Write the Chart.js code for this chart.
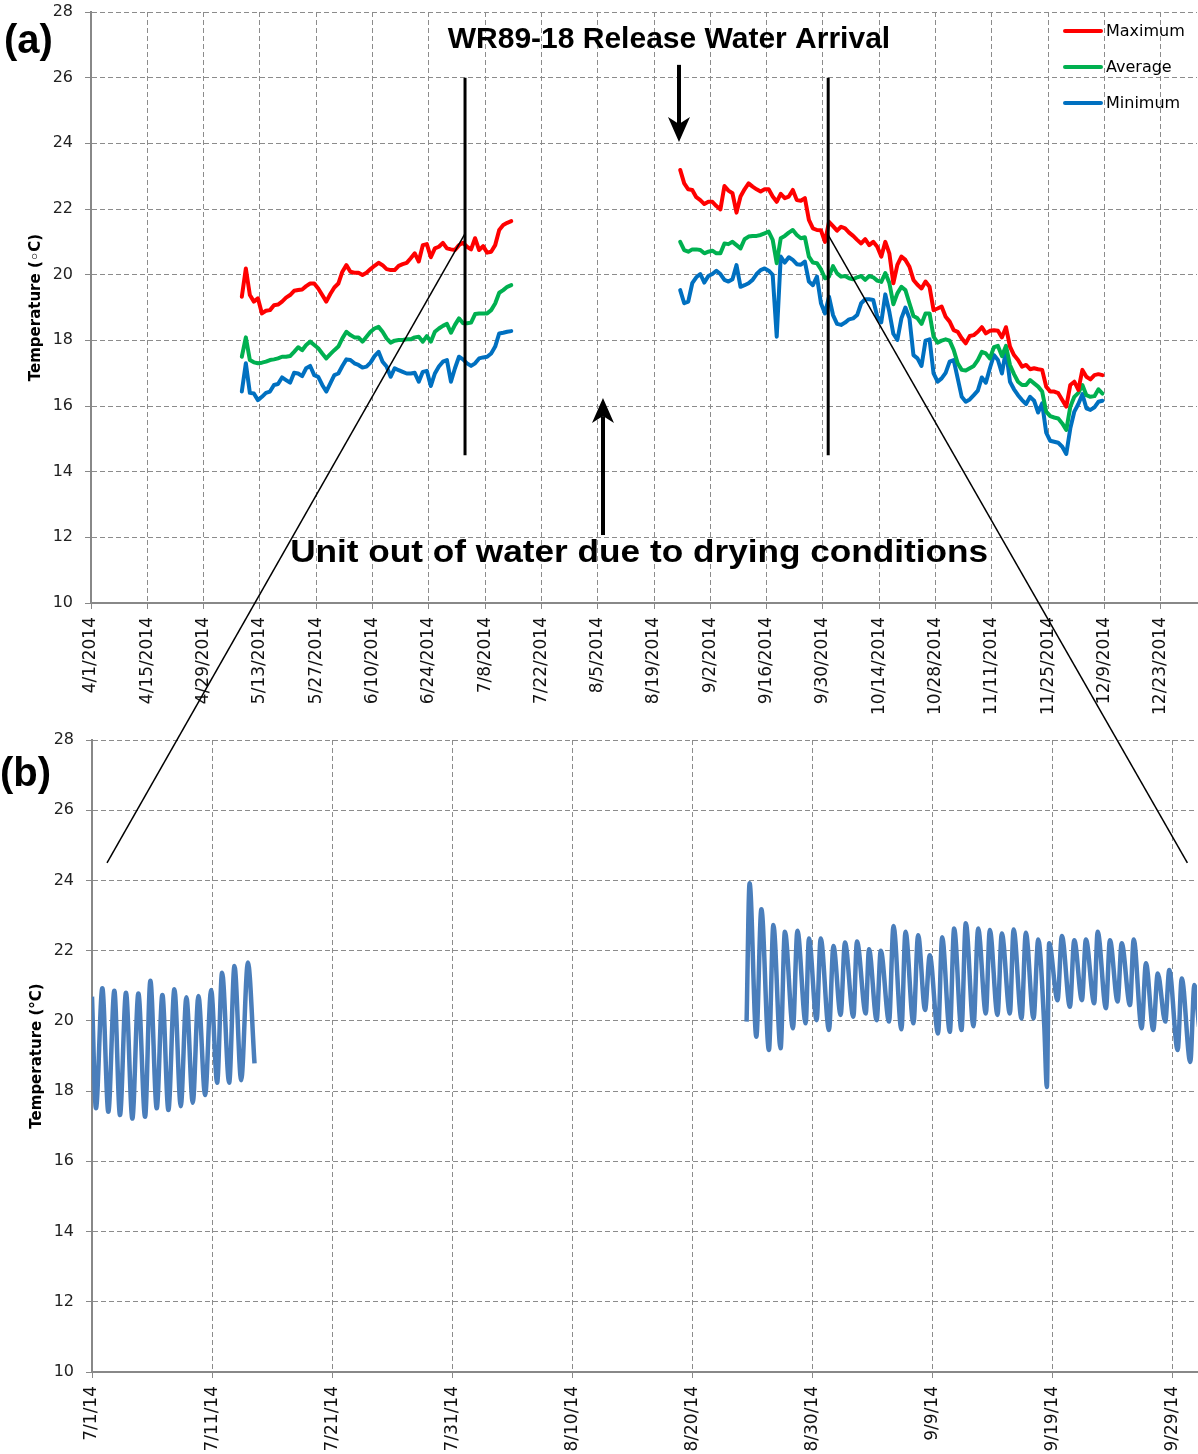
<!DOCTYPE html>
<html>
<head>
<meta charset="utf-8">
<script src="https://cdn.jsdelivr.net/npm/chart.js@4.4.1/dist/chart.umd.min.js"></script>
<style>
  html, body { margin: 0; padding: 0; background: #fff; }
  #wrap { position: relative; width: 1198px; height: 1454px; }
  canvas { position: absolute; left: 0; }
  #chartA { top: 0; }
  #chartB { top: 727px; }
  #overlay { top: 0; pointer-events: none; }
</style>
</head>
<body>
<div id="wrap">
  <canvas id="chartA" width="1198" height="727"></canvas>
  <canvas id="chartB" width="1198" height="727"></canvas>
  <canvas id="overlay" width="1198" height="1454"></canvas>
</div>
<script>
// ---- data (a): daily maximum / average / minimum, two logger periods ----
const seg1Start = '5/8/2014';
const seg2Start = '8/25/2014';

const maxSeg1 = [19.33, 20.19, 19.38, 19.18, 19.28, 18.82, 18.90, 18.92, 19.07, 19.09,
  19.18, 19.30, 19.38, 19.51, 19.53, 19.55, 19.65, 19.73, 19.73, 19.58,
  19.38, 19.18, 19.41, 19.61, 19.73, 20.09, 20.29, 20.09, 20.06, 20.06,
  19.99, 20.06, 20.17, 20.27, 20.36, 20.29, 20.17, 20.14, 20.14, 20.27,
  20.32, 20.36, 20.50, 20.65, 20.40, 20.90, 20.93, 20.53, 20.80, 20.85,
  20.97, 20.80, 20.77, 20.75, 20.90, 20.97, 20.85, 20.77, 21.11, 20.75,
  20.87, 20.67, 20.70, 20.90, 21.36, 21.51, 21.58, 21.63];
const avgSeg1 = [17.50, 18.09, 17.40, 17.33, 17.30, 17.32, 17.35, 17.40, 17.42, 17.45,
  17.50, 17.50, 17.52, 17.65, 17.79, 17.70, 17.86, 17.96, 17.86, 17.76,
  17.60, 17.45, 17.58, 17.70, 17.81, 18.06, 18.26, 18.16, 18.09, 18.09,
  17.96, 18.11, 18.26, 18.36, 18.41, 18.26, 18.06, 17.93, 17.99, 18.01,
  18.01, 18.03, 18.03, 18.09, 18.11, 17.96, 18.13, 17.96, 18.26, 18.36,
  18.44, 18.50, 18.23, 18.47, 18.67, 18.52, 18.52, 18.54, 18.80, 18.82,
  18.82, 18.82, 18.92, 19.12, 19.45, 19.53, 19.63, 19.68];
const minSeg1 = [16.44, 17.30, 16.40, 16.38, 16.18, 16.28, 16.40, 16.44, 16.64, 16.67,
  16.87, 16.79, 16.71, 17.01, 16.99, 16.91, 17.15, 17.22, 16.94, 16.89,
  16.64, 16.44, 16.69, 16.94, 16.99, 17.22, 17.42, 17.40, 17.30, 17.25,
  17.17, 17.20, 17.32, 17.52, 17.65, 17.35, 17.20, 16.89, 17.15, 17.09,
  17.04, 16.99, 16.99, 17.01, 16.74, 17.04, 17.07, 16.61, 16.99, 17.20,
  17.35, 17.40, 16.74, 17.15, 17.50, 17.42, 17.30, 17.22, 17.30, 17.45,
  17.48, 17.50, 17.60, 17.81, 18.21, 18.23, 18.26, 18.28];

const maxSeg2 = [23.19, 22.78, 22.60, 22.58, 22.36, 22.27, 22.15, 22.22, 22.22, 22.09,
  21.99, 22.70, 22.56, 22.48, 21.89, 22.38, 22.60, 22.78, 22.68, 22.60,
  22.53, 22.60, 22.60, 22.38, 22.22, 22.46, 22.33, 22.38, 22.58, 22.27,
  22.25, 22.33, 21.67, 21.41, 21.36, 21.35, 21.00, 21.61, 21.48, 21.34,
  21.46, 21.41, 21.28, 21.18, 21.06, 20.95, 21.08, 20.90, 21.00, 20.85,
  20.55, 21.00, 20.65, 19.74, 20.30, 20.55, 20.45, 20.24, 19.84, 19.69,
  19.58, 19.79, 19.63, 18.92, 18.97, 19.03, 18.72, 18.57, 18.31, 18.26,
  18.06, 17.91, 18.13, 18.16, 18.26, 18.40, 18.21, 18.29, 18.31, 18.29,
  18.09, 18.40, 17.81, 17.55, 17.40, 17.20, 17.25, 17.12, 17.15, 17.12,
  17.10, 16.59, 16.44, 16.44, 16.39, 16.18, 15.98, 16.64, 16.74, 16.49,
  17.10, 16.89, 16.81, 16.94, 16.97, 16.94];
const avgSeg2 = [21.00, 20.75, 20.70, 20.77, 20.77, 20.75, 20.65, 20.70, 20.73, 20.65,
  20.65, 20.95, 20.93, 21.00, 20.90, 20.80, 21.08, 21.16, 21.18, 21.18,
  21.21, 21.26, 21.31, 21.06, 20.35, 21.11, 21.18, 21.28, 21.36, 21.21,
  21.11, 21.14, 20.55, 20.37, 20.35, 20.16, 19.89, 19.94, 20.26, 20.04,
  19.94, 19.96, 19.89, 19.86, 19.92, 19.96, 19.84, 19.96, 19.92, 19.82,
  19.78, 20.05, 19.75, 19.10, 19.43, 19.63, 19.53, 19.13, 18.74, 18.67,
  18.50, 18.82, 18.82, 18.11, 17.93, 17.99, 18.03, 17.99, 17.71, 17.30,
  17.10, 17.08, 17.15, 17.22, 17.40, 17.65, 17.60, 17.45, 17.79, 17.83,
  17.52, 17.83, 17.25, 16.97, 16.74, 16.64, 16.64, 16.79, 16.69, 16.59,
  16.44, 15.83, 15.69, 15.65, 15.62, 15.47, 15.27, 15.98, 16.28, 16.40,
  16.64, 16.33, 16.28, 16.30, 16.51, 16.38];
const minSeg2 = [19.53, 19.13, 19.18, 19.74, 19.92, 20.02, 19.76, 19.96, 20.02, 20.12,
  20.02, 19.84, 19.79, 19.86, 20.29, 19.63, 19.68, 19.74, 19.84, 20.02,
  20.14, 20.19, 20.12, 19.99, 18.11, 20.55, 20.37, 20.53, 20.45, 20.32,
  20.30, 20.40, 19.79, 19.68, 19.94, 19.13, 18.82, 19.33, 18.77, 18.50,
  18.47, 18.54, 18.64, 18.67, 18.77, 19.13, 19.25, 19.25, 19.23, 18.72,
  18.55, 19.40, 18.87, 18.20, 18.01, 18.67, 19.00, 18.67, 17.55, 17.45,
  17.22, 17.99, 18.03, 16.99, 16.74, 16.84, 17.01, 17.35, 17.40, 16.84,
  16.28, 16.13, 16.20, 16.33, 16.47, 16.87, 16.71, 17.15, 17.55, 17.40,
  16.99, 17.70, 16.74, 16.51, 16.33, 16.18, 16.06, 16.28, 16.16, 15.80,
  16.08, 15.19, 14.94, 14.91, 14.88, 14.76, 14.54, 15.32, 15.83, 16.06,
  16.36, 15.93, 15.88, 15.96, 16.13, 16.16];

const topTickLabels = ['4/1/2014', '4/15/2014', '4/29/2014', '5/13/2014', '5/27/2014',
  '6/10/2014', '6/24/2014', '7/8/2014', '7/22/2014', '8/5/2014', '8/19/2014', '9/2/2014',
  '9/16/2014', '9/30/2014', '10/14/2014', '10/28/2014', '11/11/2014', '11/25/2014',
  '12/9/2014', '12/23/2014'];
const topAxisEnd = '1/1/2015';

// ---- data (b): sub-daily record, turning points (days since 7/1/14) ----
const zoomDays1 = [0.00, 0.33, 0.86, 1.36, 1.86, 2.33, 2.83, 3.36, 3.86, 4.42,
  4.86, 5.39, 5.86, 6.36, 6.86, 7.39, 7.86, 8.39, 8.86, 9.42,
  9.92, 10.42, 10.83, 11.42, 11.86, 12.42, 12.98, 13.53];
const zoomTemps1 = [20.69, 17.51, 20.93, 17.41, 20.86, 17.32, 20.80, 17.22, 20.78, 17.27,
  21.14, 17.51, 20.74, 17.46, 20.90, 17.57, 20.67, 17.67, 20.71, 17.89,
  20.88, 18.24, 21.37, 18.24, 21.56, 18.31, 21.66, 18.79];
const zoomDays2 = [54.50, 54.75, 55.31, 55.73, 56.36, 56.73, 57.33, 57.69, 58.36, 58.73,
  59.42, 59.69, 60.33, 60.67, 61.36, 61.73, 62.33, 62.69, 63.39, 63.69,
  64.42, 64.69, 65.33, 65.67, 66.36, 66.73, 67.39, 67.73, 68.39, 68.78,
  69.36, 69.75, 70.44, 70.78, 71.42, 71.78, 72.39, 72.75, 73.39, 73.78,
  74.42, 74.75, 75.39, 75.75, 76.42, 76.73, 77.39, 77.75, 78.39, 78.78,
  79.28, 79.50, 79.69, 80.39, 80.75, 81.42, 81.78, 82.42, 82.75, 83.44,
  83.73, 84.42, 84.75, 85.39, 85.73, 86.42, 86.73, 87.39, 87.75, 88.36,
  88.73, 89.36, 89.69, 90.39, 90.73, 91.44, 91.78, 92.17];
const zoomTemps2 = [19.98, 23.92, 19.55, 23.18, 19.17, 22.73, 19.22, 22.54, 19.79, 22.57,
  19.93, 22.35, 20.02, 22.35, 19.74, 22.13, 20.17, 22.23, 20.12, 22.26,
  20.21, 22.04, 20.02, 22.00, 19.98, 22.70, 19.76, 22.54, 19.93, 22.44,
  20.31, 21.87, 19.64, 22.38, 19.69, 22.63, 19.74, 22.78, 19.85, 22.63,
  20.21, 22.59, 20.17, 22.49, 20.21, 22.60, 20.07, 22.51, 20.07, 22.32,
  19.88, 18.12, 22.21, 20.59, 22.42, 20.40, 22.30, 20.59, 22.32, 20.50,
  22.54, 20.36, 22.30, 20.55, 22.21, 20.45, 22.32, 19.79, 21.64, 19.74,
  21.35, 19.98, 21.45, 19.17, 21.21, 18.83, 21.02, 19.83];

const bottomTickLabels = ['7/1/14', '7/11/14', '7/21/14', '7/31/14', '8/10/14',
  '8/20/14', '8/30/14', '9/9/14', '9/19/14', '9/29/14'];
const bottomAxisEnd = '10/1/14';

// ---- annotations, in data units ----
const cutoffDays = [93.0, 183.3];          // heavy vertical markers on (a)
const cutoffTemps = [14.5, 26.0];
const zoomFrom = [[93.0, 21.25], [183.1, 21.25]];   // (a) coords
const zoomTo = [[1.25, 24.5], [91.2, 24.5]];         // (b) coords
const arrivalArrow = {day: 146.2, from: 26.39, to: 24.04};
const dryArrow = {day: 127.3, from: 12.07, to: 16.24};
const arrivalText = {day: 143.7, temp: 26.9, text: 'WR89-18 Release Water Arrival'};
const dryText = {day: 136.3, temp: 11.25, text: 'Unit out of water due to drying conditions'};

const MS_DAY = 86400000;
function dayOf(label, origin) {
  let [m, d, y] = label.split('/').map(Number);
  if (y < 100) y += 2000;
  return Math.round((Date.UTC(y, m - 1, d) - origin) / MS_DAY);
}
const ORIGIN_A = Date.UTC(2014, 3, 1);
const ORIGIN_B = Date.UTC(2014, 6, 1);

function dailyPoints(start, values) {
  const d0 = dayOf(start, ORIGIN_A);
  // Excel puts each day's value in the middle of its day slot
  return values.map((v, i) => ({x: d0 + i + 0.5, y: v}));
}
function joinSegments(a, b) {
  return a.concat([{x: b[0].x - 1, y: null}], b);
}
function pairPoints(xs, ys) {
  return xs.map((x, i) => ({x: x, y: ys[i]}));
}

const topTickDays = topTickLabels.map(l => dayOf(l, ORIGIN_A));
const bottomTickDays = bottomTickLabels.map(l => dayOf(l, ORIGIN_B));

const SANS = '"DejaVu Sans", "Liberation Sans", sans-serif';
Chart.defaults.font.family = SANS;
Chart.defaults.color = '#222';

const gridOpts = {color: '#8c8c8c', lineWidth: 1, tickLength: 6, tickColor: '#888', tickBorderDash: []};
const borderOpts = {display: true, color: '#888', width: 2, dash: [5, 3]};

function yAxis(width, title, titlePad) {
  return {
    min: 10, max: 28,
    ticks: {stepSize: 2, padding: 12, font: {size: 16}},
    grid: gridOpts,
    border: borderOpts,
    title: {display: true, text: title, color: '#000', padding: {top: titlePad, bottom: 0},
            font: {size: 15, weight: 'bold'}},
    afterFit: s => { s.width = width; s.paddingTop = 0; s.paddingBottom = 0; }
  };
}
function xAxis(minV, maxV, tickDays, tickLabels, height) {
  return {
    type: 'linear', min: minV, max: maxV,
    afterBuildTicks: s => { s.ticks = tickDays.map(v => ({value: v})); },
    ticks: {autoSkip: false, minRotation: 90, maxRotation: 90, padding: 8, font: {size: 17}, color: '#111',
            callback: (v, i) => tickLabels[i]},
    grid: gridOpts,
    border: borderOpts,
    afterFit: s => { s.height = height; s.paddingLeft = 0; s.paddingRight = 0; }
  };
}

function drawArrow(ctx, x, yTail, yTip) {
  const dir = yTip > yTail ? 1 : -1;
  const headLen = 25, headHalf = 11, notch = 7;
  ctx.save();
  ctx.strokeStyle = '#000';
  ctx.fillStyle = '#000';
  ctx.lineWidth = 4;
  ctx.beginPath();
  ctx.moveTo(x, yTail);
  ctx.lineTo(x, yTip - dir * (headLen - notch));
  ctx.stroke();
  ctx.beginPath();
  ctx.moveTo(x, yTip);
  ctx.lineTo(x - headHalf, yTip - dir * headLen);
  ctx.lineTo(x, yTip - dir * (headLen - notch));
  ctx.lineTo(x + headHalf, yTip - dir * headLen);
  ctx.closePath();
  ctx.fill();
  ctx.restore();
}

function drawText(ctx, text, cx, baseline, size, width) {
  ctx.save();
  ctx.font = 'bold ' + size + 'px "Liberation Sans", Arial, sans-serif';
  ctx.fillStyle = '#000';
  ctx.textBaseline = 'alphabetic';
  const w = ctx.measureText(text).width;
  const sx = width ? width / w : 1;
  ctx.translate(cx, baseline);
  ctx.scale(sx, 1);
  ctx.textAlign = 'center';
  ctx.fillText(text, 0, 0);
  ctx.restore();
}

const notesA = {
  id: 'notesA',
  afterDatasetsDraw(chart) {
    const ctx = chart.ctx, xs = chart.scales.x, ys = chart.scales.y, area = chart.chartArea;
    // heavy vertical markers
    ctx.save();
    ctx.strokeStyle = '#000';
    ctx.lineWidth = 3;
    cutoffDays.forEach(d => {
      ctx.beginPath();
      ctx.moveTo(xs.getPixelForValue(d), ys.getPixelForValue(cutoffTemps[0]));
      ctx.lineTo(xs.getPixelForValue(d), ys.getPixelForValue(cutoffTemps[1]));
      ctx.stroke();
    });
    ctx.restore();
    drawArrow(ctx, xs.getPixelForValue(arrivalArrow.day), ys.getPixelForValue(arrivalArrow.from), ys.getPixelForValue(arrivalArrow.to));
    drawArrow(ctx, xs.getPixelForValue(dryArrow.day), ys.getPixelForValue(dryArrow.from), ys.getPixelForValue(dryArrow.to));
    drawText(ctx, arrivalText.text, xs.getPixelForValue(arrivalText.day), ys.getPixelForValue(arrivalText.temp), 30);
    drawText(ctx, dryText.text, xs.getPixelForValue(dryText.day), ys.getPixelForValue(dryText.temp), 31, 698);
    // legend inside the plot, top right
    ctx.save();
    ctx.font = '16px ' + SANS;
    ctx.textBaseline = 'middle';
    ctx.lineCap = 'round';
    chart.data.datasets.forEach((ds, i) => {
      const y = area.top + 19 + i * 36;
      ctx.strokeStyle = ds.borderColor;
      ctx.lineWidth = 4;
      ctx.beginPath();
      ctx.moveTo(area.right - 132, y);
      ctx.lineTo(area.right - 96, y);
      ctx.stroke();
      ctx.fillStyle = '#000';
      ctx.fillText(ds.label, area.right - 91, y + 1);
    });
    ctx.restore();
    // panel letter
    ctx.save();
    ctx.font = 'bold 40px "Liberation Sans", Arial, sans-serif';
    ctx.fillStyle = '#000';
    ctx.fillText('(a)', 4, 53);
    ctx.restore();
    drawOverlay();
  }
};

const notesB = {
  id: 'notesB',
  afterDatasetsDraw(chart) {
    const ctx = chart.ctx;
    ctx.save();
    ctx.font = 'bold 40px "Liberation Sans", Arial, sans-serif';
    ctx.fillStyle = '#000';
    ctx.fillText('(b)', 0, 59);
    ctx.restore();
    drawOverlay();
  }
};

let chartA = null, chartB = null;

function drawOverlay() {
  if (!chartA || !chartB) return;
  const ov = document.getElementById('overlay');
  const ctx = ov.getContext('2d');
  ctx.clearRect(0, 0, ov.width, ov.height);
  const ax = chartA.scales.x, ay = chartA.scales.y;
  const bx = chartB.scales.x, by = chartB.scales.y;
  const offB = chartB.canvas.offsetTop;
  ctx.strokeStyle = '#000';
  ctx.lineWidth = 1.5;
  zoomFrom.forEach((p, i) => {
    const q = zoomTo[i];
    ctx.beginPath();
    ctx.moveTo(ax.getPixelForValue(p[0]), ay.getPixelForValue(p[1]));
    ctx.lineTo(bx.getPixelForValue(q[0]), offB + by.getPixelForValue(q[1]));
    ctx.stroke();
  });
}

const lineStyle = {pointRadius: 0, borderWidth: 4, borderCapStyle: 'round', borderJoinStyle: 'round', tension: 0, spanGaps: false};

chartA = new Chart(document.getElementById('chartA'), {
  type: 'line',
  data: {
    datasets: [
      Object.assign({label: 'Maximum', borderColor: '#ff0000', data: joinSegments(dailyPoints(seg1Start, maxSeg1), dailyPoints(seg2Start, maxSeg2))}, lineStyle),
      Object.assign({label: 'Average', borderColor: '#00b050', data: joinSegments(dailyPoints(seg1Start, avgSeg1), dailyPoints(seg2Start, avgSeg2))}, lineStyle),
      Object.assign({label: 'Minimum', borderColor: '#0070c0', data: joinSegments(dailyPoints(seg1Start, minSeg1), dailyPoints(seg2Start, minSeg2))}, lineStyle)
    ]
  },
  options: {
    responsive: false,
    animation: false,
    layout: {padding: {top: 12, right: 1, left: 0, bottom: 0}},
    plugins: {legend: {display: false}, tooltip: {enabled: false}},
    scales: {
      x: xAxis(0, dayOf(topAxisEnd, ORIGIN_A), topTickDays, topTickLabels, 124),
      y: yAxis(91, 'Temperature (\u25E6C)', 27)
    }
  },
  plugins: [notesA]
});

chartB = new Chart(document.getElementById('chartB'), {
  type: 'line',
  data: {
    datasets: [{
      label: 'Temperature',
      borderColor: '#4a7ebb',
      borderWidth: 4.5,
      pointRadius: 0,
      cubicInterpolationMode: 'monotone',
      spanGaps: false,
      data: joinSegments(pairPoints(zoomDays1, zoomTemps1), pairPoints(zoomDays2, zoomTemps2))
    }]
  },
  options: {
    responsive: false,
    animation: false,
    layout: {padding: {top: 13, right: 1, left: 0, bottom: 0}},
    plugins: {legend: {display: false}, tooltip: {enabled: false}},
    scales: {
      x: xAxis(0, dayOf(bottomAxisEnd, ORIGIN_B), bottomTickDays, bottomTickLabels, 82),
      y: yAxis(92, 'Temperature (\u00B0C)', 28)
    }
  },
  plugins: [notesB]
});
drawOverlay();
</script>
</body>
</html>
